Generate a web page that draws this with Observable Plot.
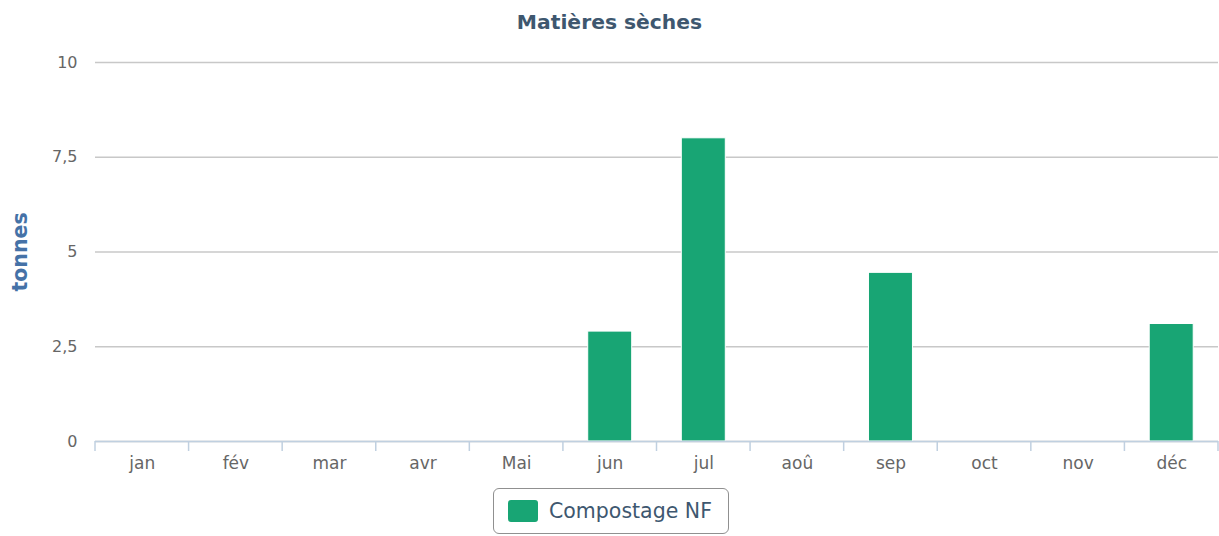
<!DOCTYPE html>
<html>
<head>
<meta charset="utf-8">
<script src="https://cdn.jsdelivr.net/npm/d3@7"></script>
<script src="https://cdn.jsdelivr.net/npm/@observablehq/plot@0.6"></script>
<style>
  html, body { margin: 0; padding: 0; background: #fff; }
  body { width: 1219px; height: 536px; overflow: hidden; font-family: "DejaVu Sans", Verdana, sans-serif; }
  #title { height: 44px; line-height: 44px; text-align: center; font-weight: bold; font-size: 20.3px; color: #3E576F; }
  #chart { position: relative; height: 441px; }
  #ylabel { position: absolute; left: 20px; top: 208px; transform: translate(-50%, -50%) rotate(-90deg); font-weight: bold; font-size: 20.5px; color: #4572A7; white-space: nowrap; }
  #legend-wrap { height: 51px; position: relative; }
  #legend { position: absolute; left: 493px; top: 3px; width: 236px; height: 46px; box-sizing: border-box; border: 1px solid #909090; border-radius: 6px; display: flex; align-items: center; }
  #legend .sw { width: 30px; height: 22px; border-radius: 3px; margin-left: 14px; margin-right: 11px; }
  #legend .lbl { font-size: 20.5px; color: #3E576F; }
</style>
</head>
<body>
<div id="title">Matières sèches</div>
<div id="chart"><div id="ylabel">tonnes</div></div>
<div id="legend-wrap"><div id="legend"><div class="sw"></div><div class="lbl"></div></div></div>
<script>
const months = ["jan", "fév", "mar", "avr", "Mai", "jun", "jul", "aoû", "sep", "oct", "nov", "déc"];
const seriesName = "Compostage NF";
const values = [0, 0, 0, 0, 0, 2.9, 8, 0, 4.45, 0, 0, 3.1];
const yTicks = [0, 2.5, 5, 7.5, 10];
const barColor = "#18A574";

document.querySelector("#legend .sw").style.background = barColor;
document.querySelector("#legend .lbl").textContent = seriesName;

const data = months.map((m, i) => ({month: m, value: values[i], series: seriesName}));
const fmt = d => String(d).replace(".", ",");

// ticks at the category boundaries, drawn from the band scale
function boundaryTicks(index, scales, vals, dimensions) {
  const x = scales.x;
  const step = x(months[1]) - x(months[0]);
  const bw = typeof x.bandwidth === "function" ? x.bandwidth() : step * 0.47;
  const gap = (step - bw) / 2;
  const yb = dimensions.height - dimensions.marginBottom;
  const g = d3.create("svg:g");
  const xs = months.map(m => x(m) - gap).concat([x(months[months.length - 1]) + bw + gap]);
  for (const xx of xs) {
    g.append("line").attr("x1", xx).attr("x2", xx).attr("y1", yb).attr("y2", yb + 10)
      .attr("stroke", "#C0D0E0").attr("stroke-width", 1.5);
  }
  return g.node();
}

const plot = Plot.plot({
  width: 1219,
  height: 441,
  marginTop: 18,
  marginBottom: 44,
  marginLeft: 95,
  marginRight: 1,
  style: {fontFamily: "DejaVu Sans, Verdana, sans-serif", fontSize: "16px", background: "white"},
  x: {domain: months, paddingInner: 0.53, paddingOuter: 0.265, align: 0.5, round: false, label: null},
  y: {domain: [0, 10], label: null},
  marks: [
    Plot.gridY(yTicks, {stroke: "#C8C8C8", strokeOpacity: 1, strokeWidth: 1.5}),
    Plot.barY(data, {x: "month", y: "value", fill: barColor, stroke: "white", strokeWidth: 1}),
    Plot.ruleY([0], {stroke: "#C0D0E0", strokeWidth: 1.5}),
    boundaryTicks,
    Plot.axisX({tickSize: 0, tickPadding: 15, fill: "#666666", fontSize: 17, label: null}),
    Plot.axisY({ticks: yTicks, tickSize: 0, tickPadding: 18, tickFormat: fmt, fill: "#666666", fontSize: 16, label: null})
  ]
});
document.getElementById("chart").appendChild(plot);
</script>
</body>
</html>
